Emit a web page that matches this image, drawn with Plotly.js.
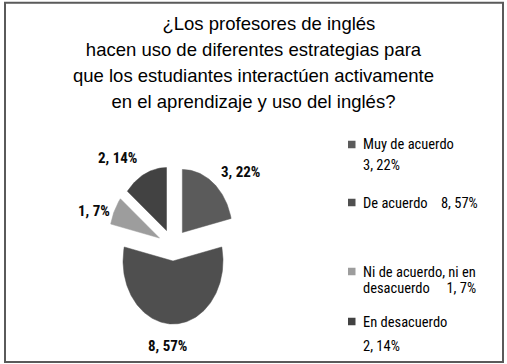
<!DOCTYPE html>
<html>
<head>
<meta charset="utf-8">
<script src="https://cdn.plot.ly/plotly-3.0.1.min.js"></script>
<style>
html,body{margin:0;padding:0;background:#ffffff;}
#chart{width:507px;height:364px;}
</style>
</head>
<body>
<div id="chart"></div>
<script>
// ---------- data ----------
const titleLines = [
  "¿Los profesores de inglés",
  "hacen uso de diferentes estrategias para",
  "que los estudiantes interactúen activamente",
  "en el aprendizaje y uso del inglés?"
];
const categories = ["Muy de acuerdo", "De acuerdo", "Ni de acuerdo, ni en desacuerdo", "En desacuerdo"];
const counts = [3, 8, 1, 2];
const percents = [22, 57, 7, 14];

// ---------- styles / layout constants ----------
const colors = ["#5b5b5b", "#4f4f4f", "#9d9d9d", "#424242"];
const W = 507, H = 364;
const CX = 173, CY = 245, RX = 50, RY = 63;       // pie centre & radii (px)
const PULL_X = 15, PULL_Y = 16;                   // explosion (px)
const labelPos = [[240, 172], [167, 346], [94, 211], [117, 158]];   // data label centres (px)
const legendX = 361, keyX0 = 348, keySize = 7.5;
const legendBreak = [3, null, 5, 2];              // words of category on first line
const legendGap = [0, 4, 5, 0];                   // no-break spaces before the value
const legendLineY = [[145, 166], [203], [272, 288], [322, 346]];
const FONT = "Roboto Condensed, DejaVu Sans Condensed, sans-serif";
const TITLE_FONT = "Liberation Sans, Arial, sans-serif";

const px2x = p => (p - CX) / RX;
const px2y = p => (CY - p) / RY;

// ---------- slices ----------
const total = counts.reduce((a, b) => a + b, 0);
const traces = [];
let acc = 0;
counts.forEach((c, i) => {
  const a0 = acc / total * 2 * Math.PI;
  const a1 = (acc + c) / total * 2 * Math.PI;
  acc += c;
  const m = (a0 + a1) / 2;
  const ox = PULL_X / RX * Math.sin(m);
  const oy = PULL_Y / RY * Math.cos(m);
  const xs = [ox], ys = [oy];
  const n = Math.max(10, Math.ceil((a1 - a0) / (2 * Math.PI) * 300));
  for (let k = 0; k <= n; k++) {
    const a = a0 + (a1 - a0) * k / n;
    xs.push(ox + Math.sin(a));
    ys.push(oy + Math.cos(a));
  }
  xs.push(ox); ys.push(oy);
  traces.push({
    type: "scatter", mode: "lines", x: xs, y: ys,
    fill: "toself", fillcolor: colors[i],
    line: {width: 0.5, color: colors[i]},
    name: categories[i], showlegend: false,
    hoverinfo: "text", text: categories[i] + ": " + counts[i] + ", " + percents[i] + "%"
  });
});

// ---------- annotations ----------
const annotations = [];
counts.forEach((c, i) => {
  annotations.push({
    x: px2x(labelPos[i][0]), y: px2y(labelPos[i][1]), xref: "x", yref: "y",
    text: c + ", " + percents[i] + "%", showarrow: false,
    xanchor: "center", yanchor: "middle",
    font: {family: FONT, size: 15, color: "#0a0a0a", weight: "bold"}
  });
});

const shapes = [];
categories.forEach((cat, i) => {
  const valTxt = counts[i] + ", " + percents[i] + "%";
  const words = cat.split(" ");
  const gap = "\u00a0".repeat(legendGap[i]);
  let lines;
  if (legendBreak[i] === null) {
    lines = [cat + gap + valTxt];
  } else {
    const first = words.slice(0, legendBreak[i]).join(" ");
    const rest = words.slice(legendBreak[i]).join(" ");
    lines = [first, rest ? rest + gap + valTxt : valTxt];
  }
  lines.forEach((ln, j) => {
    annotations.push({
      x: legendX / W, y: 1 - legendLineY[i][j] / H, xref: "paper", yref: "paper",
      text: ln, showarrow: false, xanchor: "left", yanchor: "middle",
      font: {family: FONT, size: 14.5, color: "#000000"}
    });
  });
  const yc = legendLineY[i][0] - 0.5;
  shapes.push({
    type: "rect", xref: "paper", yref: "paper",
    x0: keyX0 / W, x1: (keyX0 + keySize) / W,
    y0: 1 - (yc + keySize / 2) / H, y1: 1 - (yc - keySize / 2) / H,
    fillcolor: colors[i], line: {width: 0}
  });
});

// outer frame
shapes.push({
  type: "rect", xref: "paper", yref: "paper",
  x0: 5 / W, x1: 503 / W, y0: 1 - 362 / H, y1: 1 - 2.7 / H,
  line: {color: "#5a5a5a", width: 2}, fillcolor: "rgba(0,0,0,0)"
});

const titleText = titleLines.map((l, i) =>
  '<span style="font-size:18.5px">' + (i === 0 ? "\u00a0".repeat(6) : "") + l + "</span>"
).join("<br>");

const layout = {
  width: W, height: H,
  margin: {l: 0, r: 0, t: 0, b: 0, pad: 0},
  paper_bgcolor: "#ffffff", plot_bgcolor: "#ffffff",
  showlegend: false,
  title: {
    text: titleText, x: 0.5, xanchor: "center", xref: "paper",
    y: 1 - 30 / H, yanchor: "top", yref: "container",
    font: {family: TITLE_FONT, size: 20, color: "#000000"}
  },
  xaxis: {range: [px2x(0), px2x(W)], visible: false, fixedrange: true},
  yaxis: {range: [px2y(H), px2y(0)], visible: false, fixedrange: true},
  annotations: annotations,
  shapes: shapes
};

Plotly.newPlot("chart", traces, layout, {displayModeBar: false, staticPlot: true});
</script>
</body>
</html>
